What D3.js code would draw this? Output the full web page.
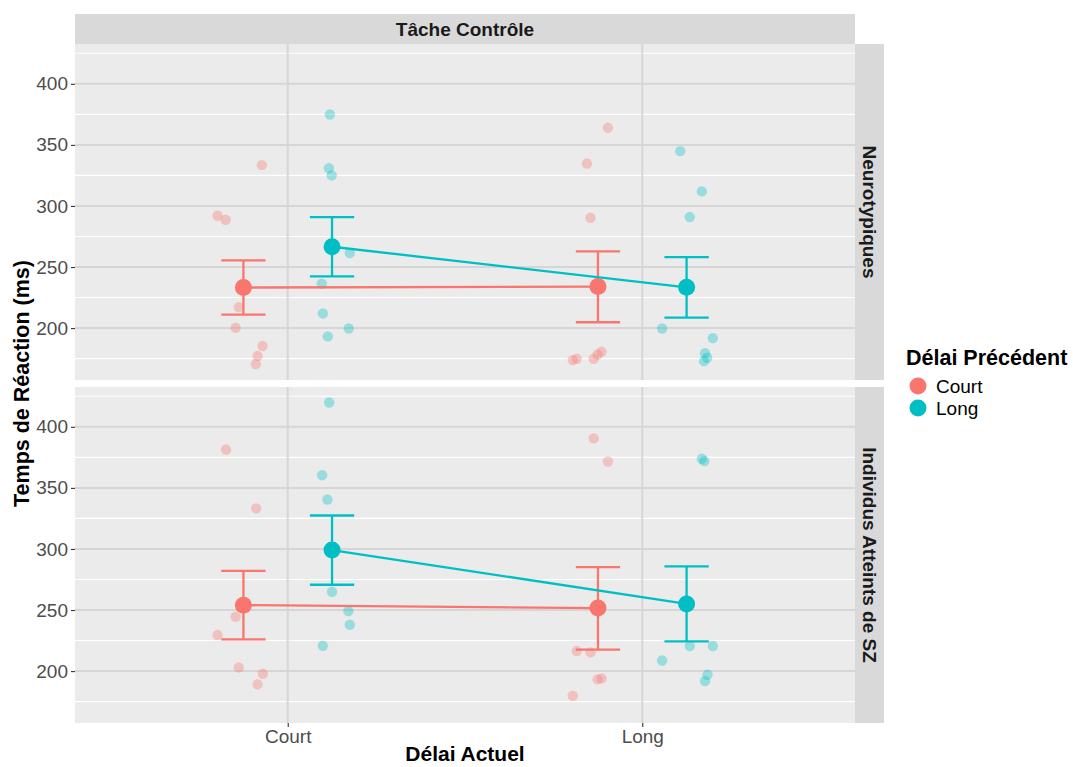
<!DOCTYPE html>
<html>
<head>
<meta charset="utf-8">
<script src="https://cdn.jsdelivr.net/npm/d3@7"></script>
<style>
  body { margin: 0; background: #fff; }
  svg { font-family: "Liberation Sans", Arial, sans-serif; }
</style>
</head>
<body>
<svg id="chart" width="1073" height="767"></svg>
<script>
// ---------- data ----------
const currentDelay = ["Court", "Long"];          // x categories (Délai Actuel)
const previousDelay = ["Court", "Long"];         // colour groups (Délai Précédent)
const groups = ["Neurotypiques", "Individus Atteints de SZ"];
const yTicks = [200, 250, 300, 350, 400];

// individual observations (ms) and their horizontal jitter (category units)
const nt_court_court = [333.4, 292.0, 288.7, 217.2, 200.3, 185.3, 177.1, 170.5];
const nt_court_court_jit = [0.052, -0.073, -0.050, -0.013, -0.022, 0.054, 0.040, 0.035];
const nt_court_long = [374.9, 331.0, 325.0, 261.4, 236.3, 212.0, 199.7, 193.2];
const nt_court_long_jit = [-0.006, -0.009, -0.001, 0.050, -0.029, -0.026, 0.047, -0.012];
const nt_long_court = [364.0, 334.8, 290.3, 173.8, 174.9, 174.9, 178.4, 180.6];
const nt_long_court_jit = [0.028, -0.031, -0.021, -0.071, -0.060, -0.012, -0.001, 0.010];
const nt_long_long = [344.9, 311.9, 290.9, 199.7, 191.8, 179.5, 175.7, 173.0];
const nt_long_long_jit = [-0.018, 0.043, 0.009, -0.069, 0.074, 0.052, 0.058, 0.049];

const sz_court_court = [381.4, 333.2, 244.5, 229.5, 203.0, 197.8, 189.1];
const sz_court_court_jit = [-0.049, 0.036, -0.022, -0.073, -0.013, 0.055, 0.040];
const sz_court_long = [419.9, 360.4, 340.5, 264.9, 249.1, 237.9, 220.7];
const sz_court_long_jit = [-0.008, -0.028, -0.013, 0.000, 0.046, 0.050, -0.026];
const sz_long_court = [390.5, 371.6, 216.4, 215.3, 193.2, 194.0, 179.8];
const sz_long_court_jit = [-0.012, 0.028, -0.060, -0.021, -0.001, 0.010, -0.071];
const sz_long_long = [373.8, 371.9, 220.5, 220.5, 208.7, 197.0, 191.8];
const sz_long_long_jit = [0.043, 0.050, 0.009, 0.074, -0.069, 0.059, 0.052];

// means and error bars (mean ± SE), order: [Court, Long] current delay
const nt_mean_prevCourt = [233.2, 234.0];
const nt_lo_prevCourt   = [211.0, 204.8];
const nt_hi_prevCourt   = [255.4, 262.8];
const nt_mean_prevLong  = [266.6, 233.4];
const nt_lo_prevLong    = [242.3, 208.5];
const nt_hi_prevLong    = [290.9, 258.1];

const sz_mean_prevCourt = [254.0, 251.6];
const sz_lo_prevCourt   = [225.9, 217.5];
const sz_hi_prevCourt   = [282.1, 285.1];
const sz_mean_prevLong  = [299.1, 255.0];
const sz_lo_prevLong    = [270.7, 224.3];
const sz_hi_prevLong    = [327.4, 285.7];

// ---------- build tables ----------
function obs(vals, jit, cur, prev) {
  return vals.map((v, i) => ({ cur, prev, value: v, jit: jit[i] }));
}
const panelData = [
  {
    label: groups[0],
    points: [].concat(
      obs(nt_court_court, nt_court_court_jit, "Court", "Court"),
      obs(nt_court_long, nt_court_long_jit, "Court", "Long"),
      obs(nt_long_court, nt_long_court_jit, "Long", "Court"),
      obs(nt_long_long, nt_long_long_jit, "Long", "Long")),
    summary: {
      Court: currentDelay.map((c, i) => ({ cur: c, mean: nt_mean_prevCourt[i], lo: nt_lo_prevCourt[i], hi: nt_hi_prevCourt[i] })),
      Long: currentDelay.map((c, i) => ({ cur: c, mean: nt_mean_prevLong[i], lo: nt_lo_prevLong[i], hi: nt_hi_prevLong[i] }))
    }
  },
  {
    label: groups[1],
    points: [].concat(
      obs(sz_court_court, sz_court_court_jit, "Court", "Court"),
      obs(sz_court_long, sz_court_long_jit, "Court", "Long"),
      obs(sz_long_court, sz_long_court_jit, "Long", "Court"),
      obs(sz_long_long, sz_long_long_jit, "Long", "Long")),
    summary: {
      Court: currentDelay.map((c, i) => ({ cur: c, mean: sz_mean_prevCourt[i], lo: sz_lo_prevCourt[i], hi: sz_hi_prevCourt[i] })),
      Long: currentDelay.map((c, i) => ({ cur: c, mean: sz_mean_prevLong[i], lo: sz_lo_prevLong[i], hi: sz_hi_prevLong[i] }))
    }
  }
];

// ---------- layout ----------
const svg = d3.select("#chart");
const FONT = "'Liberation Sans', Arial, sans-serif";
const panelLeft = 75, panelRight = 855;
const stripTop = 14, stripH = 30;
const panelH = 336, panelGap = 7;
const panelTops = [stripTop + stripH, stripTop + stripH + panelH + panelGap];
const rStripW = 29;

const color = d3.scaleOrdinal().domain(previousDelay).range(["#F8766D", "#00BFC4"]);
// discrete x with ggplot expansion (0.6 units each side)
const xCat = d3.scaleOrdinal().domain(currentDelay).range([1, 2]);
const xLin = d3.scaleLinear().domain([0.4, 2.6]).range([panelLeft, panelRight]);
const dodge = d3.scaleOrdinal().domain(previousDelay).range([-0.125, 0.125]);
const yDomain = [157.5, 432.6];

// top strip
svg.append("rect").attr("x", panelLeft).attr("y", stripTop)
  .attr("width", panelRight - panelLeft).attr("height", stripH).attr("fill", "#D9D9D9");
svg.append("text").attr("x", (panelLeft + panelRight) / 2).attr("y", stripTop + stripH / 2)
  .attr("dy", "0.36em").attr("text-anchor", "middle")
  .attr("font-size", 19).attr("font-weight", "bold").attr("fill", "#1A1A1A")
  .text("Tâche Contrôle");

panelData.forEach((pd, pi) => {
  const top = panelTops[pi];
  const y = d3.scaleLinear().domain(yDomain).range([top + panelH, top]);
  const g = svg.append("g");

  // background
  g.append("rect").attr("x", panelLeft).attr("y", top)
    .attr("width", panelRight - panelLeft).attr("height", panelH).attr("fill", "#EBEBEB");

  // minor gridlines
  const minor = [175, 225, 275, 325, 375, 425];
  g.selectAll(".minor").data(minor).join("line")
    .attr("x1", panelLeft).attr("x2", panelRight)
    .attr("y1", d => y(d)).attr("y2", d => y(d))
    .attr("stroke", "#fff").attr("stroke-width", 1.1);
  // major gridlines
  g.selectAll(".major").data(yTicks).join("line")
    .attr("x1", panelLeft).attr("x2", panelRight)
    .attr("y1", d => y(d)).attr("y2", d => y(d))
    .attr("stroke", "#D6D6D6").attr("stroke-width", 2);
  g.selectAll(".vmajor").data(currentDelay).join("line")
    .attr("x1", d => xLin(xCat(d))).attr("x2", d => xLin(xCat(d)))
    .attr("y1", top).attr("y2", top + panelH)
    .attr("stroke", "#D6D6D6").attr("stroke-width", 2);

  // y axis
  const yAxis = d3.axisLeft(y).tickValues(yTicks).tickSize(4).tickPadding(3);
  const ya = svg.append("g").attr("transform", `translate(${panelLeft},0)`).call(yAxis);
  ya.select(".domain").remove();
  ya.selectAll(".tick line").attr("stroke", "#333").attr("stroke-width", 1.1);
  ya.selectAll(".tick text").attr("font-size", 19).attr("fill", "#4D4D4D")
    .attr("font-family", FONT);

  // jitter points
  g.selectAll(".pt").data(pd.points).join("circle")
    .attr("cx", d => xLin(xCat(d.cur) + dodge(d.prev) + d.jit))
    .attr("cy", d => y(d.value))
    .attr("r", 5.2)
    .attr("fill", d => color(d.prev))
    .attr("fill-opacity", 0.35);

  // summary lines, errorbars, means
  previousDelay.forEach(prev => {
    const s = pd.summary[prev];
    const c = color(prev);
    const line = d3.line().x(d => xLin(xCat(d.cur) + dodge(prev))).y(d => y(d.mean));
    g.append("path").datum(s).attr("d", line)
      .attr("fill", "none").attr("stroke", c).attr("stroke-width", 2.3);
    const hw = 0.0625;
    s.forEach(d => {
      const cx = xLin(xCat(d.cur) + dodge(prev));
      const x0 = xLin(xCat(d.cur) + dodge(prev) - hw), x1 = xLin(xCat(d.cur) + dodge(prev) + hw);
      g.append("line").attr("x1", cx).attr("x2", cx).attr("y1", y(d.lo)).attr("y2", y(d.hi))
        .attr("stroke", c).attr("stroke-width", 2.3);
      g.append("line").attr("x1", x0).attr("x2", x1).attr("y1", y(d.lo)).attr("y2", y(d.lo))
        .attr("stroke", c).attr("stroke-width", 2.3);
      g.append("line").attr("x1", x0).attr("x2", x1).attr("y1", y(d.hi)).attr("y2", y(d.hi))
        .attr("stroke", c).attr("stroke-width", 2.3);
      g.append("circle").attr("cx", cx).attr("cy", y(d.mean)).attr("r", 8.5).attr("fill", c);
    });
  });

  // right strip
  svg.append("rect").attr("x", panelRight).attr("y", top)
    .attr("width", rStripW).attr("height", panelH).attr("fill", "#D9D9D9");
  svg.append("text")
    .attr("transform", `translate(${panelRight + rStripW / 2},${top + panelH / 2}) rotate(90)`)
    .attr("dy", "0.36em").attr("text-anchor", "middle")
    .attr("font-size", 19).attr("font-weight", "bold").attr("fill", "#1A1A1A")
    .text(pd.label);
});

// x axis (bottom panel only)
const bottom = panelTops[1] + panelH;
const xAxis = d3.axisBottom(xLin).tickValues(currentDelay.map(c => xCat(c)))
  .tickFormat((d, i) => currentDelay[i]).tickSize(4).tickPadding(3);
const xa = svg.append("g").attr("transform", `translate(0,${bottom})`).call(xAxis);
xa.select(".domain").remove();
xa.selectAll(".tick line").attr("stroke", "#333").attr("stroke-width", 1.1);
xa.selectAll(".tick text").attr("font-size", 19).attr("fill", "#4D4D4D")
  .attr("font-family", FONT);

// axis titles
svg.append("text").attr("x", (panelLeft + panelRight) / 2).attr("y", 761)
  .attr("text-anchor", "middle").attr("font-size", 21).attr("font-weight", "bold").attr("fill", "#000")
  .text("Délai Actuel");
svg.append("text")
  .attr("transform", `translate(29,${(panelTops[0] + bottom) / 2}) rotate(-90)`)
  .attr("text-anchor", "middle").attr("font-size", 21.5).attr("font-weight", "bold").attr("fill", "#000")
  .text("Temps de Réaction (ms)");

// legend
const lg = svg.append("g").attr("transform", "translate(906,0)");
lg.append("text").attr("x", 0).attr("y", 365).attr("font-size", 21.5).attr("font-weight", "bold")
  .attr("fill", "#000").text("Délai Précédent");
previousDelay.forEach((p, i) => {
  const cy = 386 + i * 22;
  lg.append("circle").attr("cx", 12).attr("cy", cy).attr("r", 8.5).attr("fill", color(p));
  lg.append("text").attr("x", 30).attr("y", cy).attr("dy", "0.36em")
    .attr("font-size", 19).attr("fill", "#000").text(p);
});
</script>
</body>
</html>
